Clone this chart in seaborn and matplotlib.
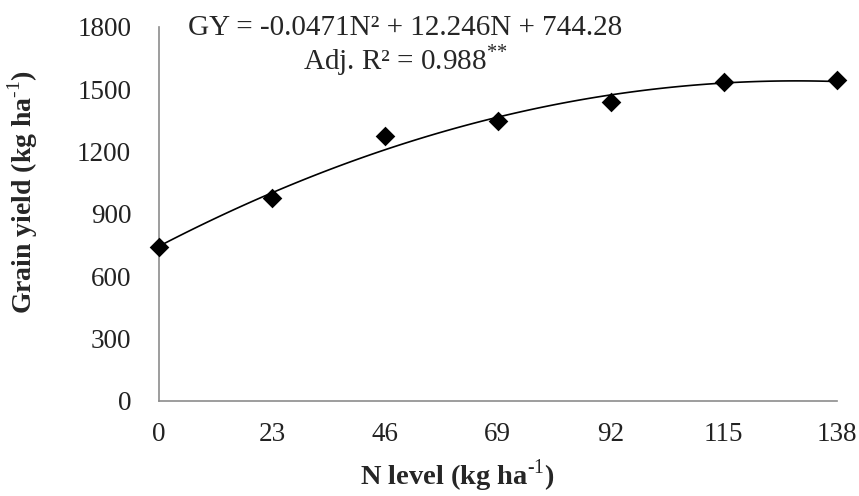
import numpy as np
import pandas as pd
import matplotlib
matplotlib.use('Agg')
import matplotlib.pyplot as plt
import seaborn as sns

# ========== DATA ==========
n_level = [0, 23, 46, 69, 92, 115, 138]
grain_yield = [740, 975, 1275, 1345, 1440, 1535, 1545]
x_ticks = [0, 23, 46, 69, 92, 115, 138]
y_ticks = [0, 300, 600, 900, 1200, 1500, 1800]
eq_text = 'GY = -0.0471N\u00b2 + 12.246N + 744.28'
r2_text = 'Adj. R\u00b2 = 0.988$^{\\text{**}}$'

df = pd.DataFrame({'N': n_level, 'GY': grain_yield})

# ========== PLOT ==========
sns.set_style('white')
plt.rcParams['font.family'] = ['Liberation Serif', 'DejaVu Serif']
plt.rcParams['mathtext.fontset'] = 'custom'
plt.rcParams['mathtext.rm'] = 'Liberation Serif'
plt.rcParams['mathtext.bf'] = 'Liberation Serif:bold'

fig = plt.figure(figsize=(8.59, 4.96), dpi=100)
ax = fig.add_axes([0.185, 0.192, 0.789, 0.754])

# quadratic trend fitted by seaborn
sns.regplot(data=df, x='N', y='GY', order=2, ci=None, ax=ax,
            marker='D', color='black',
            scatter_kws={'s': 100, 'alpha': 1, 'clip_on': False, 'zorder': 3, 'linewidths': 0},
            line_kws={'linewidth': 1.2})

ax.set_xlim(0, 138)
ax.set_ylim(0, 1800)
ax.set_xticks(x_ticks)
ax.set_yticks(y_ticks)
ax.tick_params(axis='y', labelsize=19.5, length=0, pad=20, colors='#222222')
ax.tick_params(axis='x', labelsize=19.5, length=0, pad=15, colors='#222222')

for side in ['top', 'right']:
    ax.spines[side].set_visible(False)
for side in ['left', 'bottom']:
    ax.spines[side].set_color('#8c8c8c')
    ax.spines[side].set_linewidth(1.2)

ax.set_xlabel('N level (kg ha$^{\\text{-1}}$)', fontsize=20.5, fontweight='bold')
ax.set_ylabel('Grain yield (kg ha$^{\\text{-1}}$)', fontsize=20, fontweight='bold')
ax.xaxis.set_label_coords(0.44, -0.152)
ax.yaxis.set_label_coords(-0.175, 0.558)

ax.text(0.363, 0.997, eq_text, transform=ax.transAxes, ha='center', va='center', fontsize=21)
ax.text(0.363, 0.911, r2_text, transform=ax.transAxes, ha='center', va='center', fontsize=21)

fig.savefig('out.png', dpi=100)
